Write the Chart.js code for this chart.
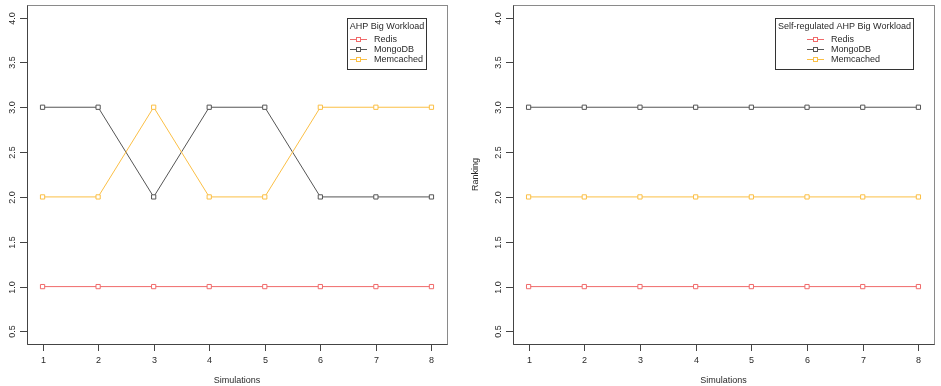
<!DOCTYPE html>
<html>
<head>
<meta charset="utf-8">
<script src="https://cdn.jsdelivr.net/npm/chart.js@4"></script>
<style>
  html, body { margin: 0; padding: 0; background: #fff; }
  #wrap { position: relative; width: 941px; height: 386px; }
  canvas { position: absolute; top: 0; }
</style>
</head>
<body>
<div id="wrap">
  <canvas id="left" width="470" height="386" style="left:0"></canvas>
  <canvas id="right" width="471" height="386" style="left:470px"></canvas>
</div>
<script>
const simulations = [1, 2, 3, 4, 5, 6, 7, 8];
const yTicks = [0.5, 1.0, 1.5, 2.0, 2.5, 3.0, 3.5, 4.0];
const seriesNames = ['Redis', 'MongoDB', 'Memcached'];
const seriesColors = ['#f06a6a', '#555555', '#fbbf45'];

// AHP Big Workload
const ahpRedis = [1, 1, 1, 1, 1, 1, 1, 1];
const ahpMongo = [3, 3, 2, 3, 3, 2, 2, 2];
const ahpMemcached = [2, 2, 3, 2, 2, 3, 3, 3];

// Self-regulated AHP Big Workload
const selfRedis = [1, 1, 1, 1, 1, 1, 1, 1];
const selfMongo = [3, 3, 3, 3, 3, 3, 3, 3];
const selfMemcached = [2, 2, 2, 2, 2, 2, 2, 2];

const FONT = '9px "Liberation Sans", Arial, sans-serif';
const TXT = '#2a2a2a';

// R-style box, ticks, labels and legend
const rStyle = {
  id: 'rStyle',
  afterDraw(chart, args, opts) {
    const ctx = chart.ctx;
    const a = chart.chartArea;
    const xs = chart.scales.x, ys = chart.scales.y;
    ctx.save();
    ctx.lineWidth = 1;
    // box
    ctx.strokeStyle = '#8a8a8a';
    ctx.strokeRect(Math.round(a.left) + 0.5, Math.round(a.top) + 0.5, Math.round(a.right - a.left), Math.round(a.bottom - a.top));
    ctx.strokeStyle = '#444';
    ctx.beginPath();
    ctx.moveTo(Math.round(a.left) + 0.5, Math.round(a.top) + 0.5);
    ctx.lineTo(Math.round(a.left) + 0.5, Math.round(a.bottom) + 0.5);
    ctx.lineTo(Math.round(a.right) + 0.5, Math.round(a.bottom) + 0.5);
    ctx.stroke();

    ctx.font = FONT;
    ctx.fillStyle = TXT;
    ctx.strokeStyle = '#444';
    // x ticks
    ctx.textAlign = 'center';
    ctx.textBaseline = 'middle';
    simulations.forEach(v => {
      const px = Math.round(xs.getPixelForValue(v)) + 0.5;
      ctx.beginPath();
      ctx.moveTo(px, a.bottom);
      ctx.lineTo(px, a.bottom + 7);
      ctx.stroke();
      ctx.fillText(String(v), px, a.bottom + 17);
    });
    ctx.fillText('Simulations', (a.left + a.right) / 2, a.bottom + 37);
    // y ticks
    yTicks.forEach(v => {
      const py = Math.round(ys.getPixelForValue(v)) + 0.5;
      ctx.beginPath();
      ctx.moveTo(a.left - 7, py);
      ctx.lineTo(a.left, py);
      ctx.stroke();
      ctx.save();
      ctx.translate(a.left - 14, py);
      ctx.rotate(-Math.PI / 2);
      ctx.fillText(v.toFixed(1), 0, 0);
      ctx.restore();
    });
    if (opts.yTitle) {
      ctx.save();
      ctx.translate(a.left - 37, (a.top + a.bottom) / 2);
      ctx.rotate(-Math.PI / 2);
      ctx.fillText(opts.yTitle, 0, 0);
      ctx.restore();
    }

    // legend
    const titleW = ctx.measureText(opts.legendTitle).width;
    const boxW = Math.round(titleW + 5);
    const boxR = Math.round(a.right - 21);
    const boxL = boxR - boxW;
    const boxT = Math.round(a.top + 13);
    const boxH = 51;
    ctx.fillStyle = '#fff';
    ctx.fillRect(boxL, boxT, boxW, boxH);
    ctx.strokeStyle = '#333';
    ctx.strokeRect(boxL + 0.5, boxT + 0.5, boxW, boxH);
    ctx.fillStyle = TXT;
    ctx.fillText(opts.legendTitle, boxL + boxW / 2 + 0.5, boxT + 8.5);
    const maxText = Math.max(...seriesNames.map(n => ctx.measureText(n).width));
    const blockW = 24 + maxText;
    const x0 = Math.round(boxL + (boxW - blockW) / 2);
    ctx.textAlign = 'left';
    seriesNames.forEach((n, i) => {
      const yy = Math.round(boxT + 20.5 + i * 10) + 0.5;
      ctx.strokeStyle = seriesColors[i];
      ctx.beginPath();
      ctx.moveTo(x0, yy);
      ctx.lineTo(x0 + 17, yy);
      ctx.stroke();
      ctx.fillStyle = '#fff';
      ctx.fillRect(x0 + 6.5, yy - 2, 4, 4);
      ctx.strokeRect(x0 + 6.5, yy - 2, 4, 4);
      ctx.fillStyle = TXT;
      ctx.fillText(n, x0 + 24, yy);
    });
    ctx.restore();
  }
};

function pts(vals) {
  return simulations.map((s, i) => ({ x: s, y: vals[i] }));
}

function makeChart(id, series, padding, legendTitle, yTitle) {
  const datasets = series.map((vals, i) => ({
    label: seriesNames[i],
    data: pts(vals),
    borderColor: seriesColors[i],
    backgroundColor: '#fff',
    borderWidth: 1,
    pointStyle: 'rect',
    pointRadius: 3,
    pointBorderWidth: 1,
    pointBackgroundColor: '#fff',
    tension: 0,
    order: 2 - i
  }));
  return new Chart(document.getElementById(id), {
    type: 'line',
    data: { datasets },
    options: {
      responsive: false,
      animation: false,
      events: [],
      layout: { padding },
      scales: {
        x: { type: 'linear', min: 0.72, max: 8.28, display: false },
        y: { type: 'linear', min: 0.36, max: 4.14, display: false }
      },
      plugins: {
        legend: { display: false },
        tooltip: { enabled: false },
        rStyle: { legendTitle, yTitle }
      }
    },
    plugins: [rStyle]
  });
}

makeChart('left', [ahpRedis, ahpMongo, ahpMemcached],
  { left: 27, top: 5, right: 23, bottom: 42 }, 'AHP Big Workload', null);
makeChart('right', [selfRedis, selfMongo, selfMemcached],
  { left: 43, top: 5, right: 7, bottom: 42 }, 'Self-regulated AHP Big Workload', 'Ranking');
</script>
</body>
</html>
